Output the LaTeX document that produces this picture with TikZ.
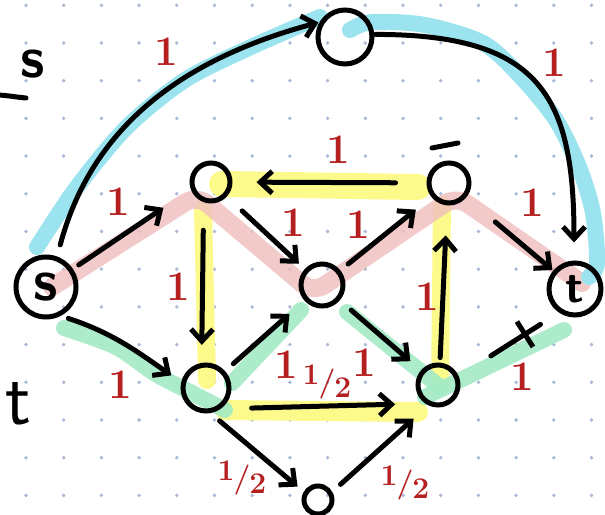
\documentclass[tikz,border=0pt]{standalone}
\usepackage{fontspec}
\usepackage{xcolor}
\usepackage{tikz}
\usetikzlibrary{arrows.meta}
\definecolor{penred}{HTML}{B51F1F}
\definecolor{hlblue}{HTML}{9BE3EE}
\definecolor{hlred}{HTML}{F0BDBD}
\definecolor{hlyellow}{HTML}{FDFA8C}
\definecolor{hlgreen}{HTML}{A3EBC5}
\definecolor{griddot}{HTML}{A9B9D6}
\newcommand{\halfcap}{\raisebox{7pt}{1}\kern-1pt/\kern-1pt\raisebox{-6pt}{2}}
\tikzset{
  netnode/.style={circle, draw=black, line width=5pt, inner sep=0pt,
    minimum size=#1, font=\sffamily\bfseries\fontsize{58}{58}\selectfont},
  netnode/.default=40pt,
  flowarrow/.style={-{Straight Barb[length=12pt,width=22pt]}, draw=black,
    line width=5pt, line cap=round},
  plainflow/.style={draw=black, line width=5pt, line cap=round},
  crossbar/.style={rectangle, draw=black, line width=5pt, minimum width=0pt,
    minimum height=30pt, inner sep=0pt},
  caplab/.style={font=\bfseries\fontsize{42}{42}\selectfont, text=penred, inner sep=0pt},
  halflab/.style={font=\bfseries\fontsize{30}{30}\selectfont, text=penred, inner sep=0pt},
  hilite/.style={line width=#1, line cap=round, line join=round},
  hilite/.default=15pt,
}

\begin{document}
\begin{tikzpicture}[x=1pt, y=1pt]

  \fill[white] (0,0) rectangle (605,514);
  \useasboundingbox (0,0) rectangle (605,514);

  % ============ Dotted paper ============
  \foreach \i in {0,...,15}{
    \foreach \j in {0,...,13}{
      \fill[griddot] ({26+37.7*\i},{508.7-37.7*\j}) circle (1.9pt);
    }
  }

  % ============ Highlighted paths (marker strokes) ============
  % yellow: cycle ul -> ll -> lr -> ur -> ul
  \draw[hilite=26pt, draw=hlyellow] (222,330) -- (418,327);
  \draw[hilite=18pt, draw=hlyellow] (203,304) -- (207,134);
  \draw[hilite=20pt, draw=hlyellow] (225,104) -- (418,102);
  \draw[hilite=18pt, draw=hlyellow] (442,309) -- (440,129);

  % green: s -> ll -> mid -> lr -> t
  \draw[hilite=16pt, draw=hlgreen, opacity=.9] plot[smooth] coordinates
    {(64,186) (116,167) (154,141) (190,122) (225,104)};
  \draw[hilite=16pt, draw=hlgreen, opacity=.9] (232,131) -- (301,204);
  \draw[hilite=16pt, draw=hlgreen, opacity=.9] (347,202) -- (440,127);
  \draw[hilite=16pt, draw=hlgreen, opacity=.9] (425,117) -- (564,184);

  % red: s -> ul -> mid -> ur -> t
  \draw[hilite=18pt, draw=hlred, opacity=.8, rounded corners=14pt]
    (52,227) -- (197,319) -- (313,221) -- (456,318) -- (582,231);

  % blue: s -> top -> t
  \draw[hilite=16pt, draw=hlblue] plot[smooth] coordinates
    {(37,267) (77,327) (127,387) (185,434) (251,467) (320,497)};
  \draw[hilite=16pt, draw=hlblue] plot[smooth] coordinates
    {(350,484) (372,492) (425,489) (483,471) (521,437) (556,394)
     (579,347) (593,301) (597,251) (589,237)};

  % ============ Vertices ============
  \node[netnode=60pt] (src) at ( 46, 227) {s};
  \node[netnode=52pt, font=\sffamily\bfseries\fontsize{46}{46}\selectfont]
                      (snk) at (575, 225) {t};
  \node[netnode=54pt] (top) at (345, 477) {};
  \node[netnode=38pt] (ul)  at (211, 332) {};
  \node[netnode=42pt] (mid) at (322, 229) {};
  \node[netnode=40pt] (ur)  at (449, 331) {};
  \node[netnode=46pt] (ll)  at (206, 126) {};
  \node[netnode=40pt] (lr)  at (438, 129) {};
  \node[netnode=28pt] (bot) at (318,  14) {};

  % bar over ur
  \draw[plainflow] ([shift={(-17,35)}]ur.center) -- ++(26,5);

  % ============ Flow edges ============
  % outer route over the top
  \draw[flowarrow, shorten <=12pt, shorten >=1pt]
    (src.70) to[out=75, in=195] (top.150);
  \draw[flowarrow, shorten <=1pt, shorten >=18pt]
    (top.5) to[out=0, in=90, looseness=1.4] (snk.92);

  % upper zig-zag
  \draw[flowarrow, shorten <=7pt, shorten >=33pt] (src) -- (ul.200);
  \draw[flowarrow, shorten <=21pt, shorten >=8pt] (ul) -- (mid);
  \draw[flowarrow, shorten <=10pt, shorten >=20pt] (mid) -- (ur);
  \draw[flowarrow, shorten <=38pt, shorten >=1pt] (ur) -- (snk);

  % cycle edges
  \draw[flowarrow, shorten <=31pt, shorten >=24pt] (ur) -- (ul);
  \draw[flowarrow, shorten <=28pt, shorten >=18pt] (ul.250) -- (ll.100);
  \draw[flowarrow, shorten <=5pt, shorten >=30pt] (lr.85) -- (ur.265);
  \draw[flowarrow, shorten <=31pt, shorten >=30pt] (ll.-55) -- (lr.235);

  % lower part
  \draw[flowarrow, shorten <=8pt, shorten >=12pt]
    (src.-63) to[out=-18, in=145] (ll.167);
  \draw[flowarrow, shorten <=11pt, shorten >=20pt] (ll) -- (mid);
  \draw[flowarrow, shorten <=15pt, shorten >=14pt] (mid) -- (lr);
  \draw[flowarrow, shorten <=12pt, shorten >=8pt] (ll.-80) -- (bot.150);
  \draw[flowarrow, shorten <=11pt, shorten >=20pt] (bot.30) -- (lr.245);
  \draw[plainflow, shorten <=38pt, shorten >=22pt] (lr.23) --
    node[crossbar, sloped, pos=0.66] (tick) {} (snk.236);

  % ============ Capacities ============
  \node[caplab] (c-s-top)   at (166, 462) {1};
  \node[caplab] (c-top-t)   at (554, 451) {1};
  \node[caplab] (c-s-ul)    at (118, 312) {1};
  \node[caplab] (c-ul-mid)  at (293, 291) {1};
  \node[caplab] (c-mid-ur)  at (358, 289) {1};
  \node[caplab] (c-ur-t)    at (532, 311) {1};
  \node[caplab] (c-ur-ul)   at (338, 364) {1};
  \node[caplab] (c-ul-ll)   at (178, 227) {1};
  \node[caplab] (c-lr-ur)   at (427, 217) {1};
  \node[caplab] (c-s-ll)    at (120, 129) {1};
  \node[caplab] (c-ll-mid)  at (286, 149) {1};
  \node[caplab] (c-mid-lr)  at (364, 151) {1};
  \node[caplab] (c-lr-t)    at (522, 137) {1};
  \node[halflab] (c-ll-lr)  at (327, 132) {\halfcap};
  \node[halflab] (c-ll-bot) at (242,  36) {\halfcap};
  \node[halflab] (c-bot-lr) at (405,  31) {\halfcap};

  % ============ Cut-off notes at the left edge ============
  \node[font=\sffamily\bfseries\fontsize{58}{58}\selectfont, inner sep=0pt]
    (note-s) at (33, 450) {s};
  \draw[plainflow] (-2,419) to[out=-3, in=175] (26,416);
  \node[font=\sffamily\fontsize{76}{76}\selectfont, inner sep=0pt]
    (note-t) at (18, 110) {t};

\end{tikzpicture}
\end{document}
